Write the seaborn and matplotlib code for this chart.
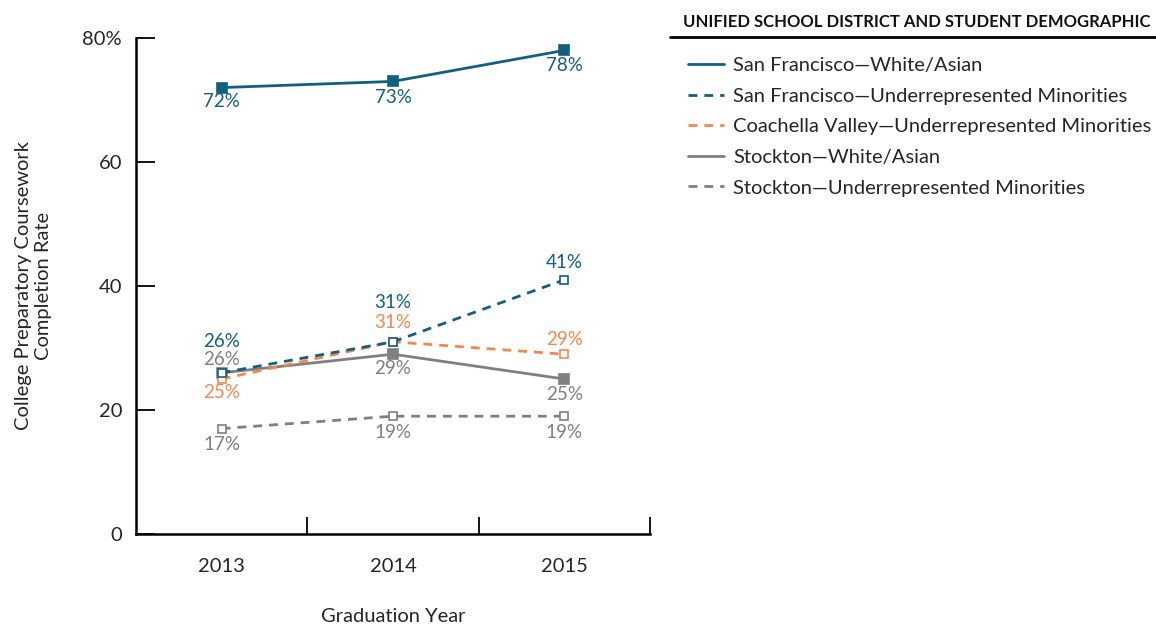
import matplotlib
matplotlib.use("Agg")
import matplotlib.pyplot as plt
import numpy as np
import seaborn as sns
from matplotlib.lines import Line2D

# Data
years = ["2013", "2014", "2015"]
series_names = [
    "San Francisco\u2014White/Asian",
    "San Francisco\u2014Underrepresented Minorities",
    "Coachella Valley\u2014Underrepresented Minorities",
    "Stockton\u2014White/Asian",
    "Stockton\u2014Underrepresented Minorities",
]
sf_white_asian = [72, 73, 78]
sf_urm = [26, 31, 41]
cv_urm = [25, 31, 29]
stockton_white_asian = [26, 29, 25]
stockton_urm = [17, 19, 19]
y_ticks = [0, 20, 40, 60, 80]
y_tick_labels = ["0", "20", "40", "60", "80%"]

# Styling (label offsets in pixels, positive = above the point)
BLUE = "#135f82"
ORANGE = "#f4874f"
GRAY = "#808080"
styles = [
    dict(color=BLUE, dashed=False, filled=True, offsets=[-14, -16, -15]),
    dict(color=BLUE, dashed=True, filled=False, offsets=[31, 39, 17]),
    dict(color=ORANGE, dashed=True, filled=False, offsets=[-14, 19, 15]),
    dict(color=GRAY, dashed=False, filled=True, offsets=[13, -14, -15]),
    dict(color=GRAY, dashed=True, filled=False, offsets=[-16, -16, -16]),
]
all_values = [sf_white_asian, sf_urm, cv_urm, stockton_white_asian, stockton_urm]
FS = 14.5

sns.set_theme(style="white")
plt.rcParams["font.family"] = ["Lato", "DejaVu Sans"]

fig = plt.figure(figsize=(11.56, 6.24), dpi=100)
ax = fig.add_axes([136 / 1156, 1 - 534 / 624, 514 / 1156, 496 / 624])

x = np.arange(len(years))
handles = []
n = len(series_names)
for i, (name, vals, st) in enumerate(zip(series_names, all_values, styles)):
    ls = (0, (3.2, 2.5)) if st["dashed"] else "-"
    sns.lineplot(
        x=x, y=vals, ax=ax, color=st["color"], linewidth=2.0, linestyle=ls,
        marker="s", markersize=6.8 if st["filled"] else 6,
        markerfacecolor=st["color"] if st["filled"] else "white",
        markeredgecolor=st["color"], markeredgewidth=1.2, zorder=10 + n - i,
    )
    for xi, v, off in zip(x, vals, st["offsets"]):
        ax.annotate(f"{v}%", xy=(xi, v), xytext=(0, off * 0.72),
                    textcoords="offset points", ha="center", va="center",
                    fontsize=13.5, color=st["color"], zorder=20)
    handles.append(Line2D([], [], color=st["color"], linewidth=2.0, linestyle=ls))

ax.set_xlim(-0.5, 2.5)
ax.set_ylim(0, 80)
ax.set_yticks(y_ticks)
ax.set_yticklabels(y_tick_labels, fontsize=FS)
ax.set_xticks(x)
ax.set_xticklabels(years, fontsize=FS)
ax.set_xticks([0.5, 1.5, 2.5], minor=True)
ax.tick_params(axis="x", which="major", length=0, pad=17)
ax.tick_params(axis="x", which="minor", direction="in", length=12, width=1.3,
               color="black", bottom=True)
ax.tick_params(axis="y", direction="in", length=13.5, width=1.3, color="black", pad=10, left=True)
for side in ["top", "right"]:
    ax.spines[side].set_visible(False)
for side in ["left", "bottom"]:
    ax.spines[side].set_color("black")
    ax.spines[side].set_linewidth(1.8)
ax.grid(False)

ax.set_xlabel("Graduation Year", fontsize=FS, labelpad=24)
ax.set_ylabel("College Preparatory Coursework\nCompletion Rate", fontsize=FS, labelpad=22,
              linespacing=1.2)

# Legend title with rule
fig.text(683 / 1156, 1 - 22 / 624, "UNIFIED SCHOOL DISTRICT AND STUDENT DEMOGRAPHIC",
         fontsize=12, fontweight="bold", ha="left", va="center", color="#111111")
fig.add_artist(Line2D([670 / 1156, 1.0], [1 - 37 / 624] * 2, color="black", linewidth=2,
                      transform=fig.transFigure))
fig.legend(handles, series_names, loc="upper left", bbox_to_anchor=(680 / 1156, 1 - 49 / 624),
           frameon=False, fontsize=FS, handlelength=1.8, handletextpad=0.45,
           labelspacing=0.67, borderaxespad=0)

fig.savefig("out.png", dpi=100)
